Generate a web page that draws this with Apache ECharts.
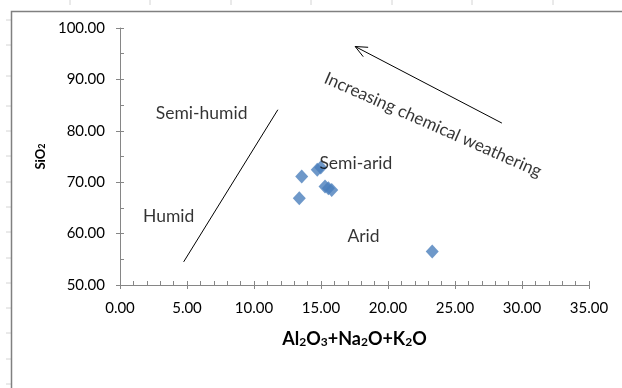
<!DOCTYPE html>
<html>
<head>
<meta charset="utf-8">
<script src="https://cdn.jsdelivr.net/npm/echarts@6/dist/echarts.min.js"></script>
<style>
  html, body { margin: 0; padding: 0; background: #fff; }
  #chart { width: 622px; height: 388px; }
</style>
</head>
<body>
<div id="chart"></div>
<script>
// sample points (Al2O3+Na2O+K2O, SiO2)
const samples = [
  [13.56, 71.1],
  [14.72, 72.4],
  [14.98, 72.85],
  [13.38, 66.9],
  [15.3, 69.15],
  [15.55, 68.8],
  [15.8, 68.5],
  [23.3, 56.5]
];

// humid / semi-humid boundary line
const boundary = [[4.75, 54.5], [11.78, 84.1]];

// weathering arrow: tail -> tip
const arrow = [[28.5, 81.5], [17.55, 96.4]];

// field labels
const fieldNames = ['Semi-humid', 'Humid', 'Semi-arid', 'Arid'];
const fieldPos = [[6.09, 83.3], [3.63, 63.4], [17.6, 73.75], [18.17, 59.4]];
const arrowText = 'Increasing chemical weathering';
const arrowTextPos = [23.35, 81.15];

const xMin = 0, xMax = 35, xStep = 5;
const yMin = 50, yMax = 100, yStep = 10;

const font = 'Lato, "Open Sans", sans-serif';
const axisGray = '#868686';

const chart = echarts.init(document.getElementById('chart'), null, { renderer: 'canvas' });

// spreadsheet cell marks around the chart frame
const decor = [];
[70, 150, 231, 311, 392, 472, 553].forEach(x => {
  decor.push({ type: 'line', silent: true, shape: { x1: x, y1: 0, x2: x, y2: 5 }, style: { stroke: '#d4d4d4', lineWidth: 1 } });
});
[20, 45, 76, 106, 131, 156, 182, 207, 232, 258, 283, 308, 333, 359, 384].forEach(y => {
  decor.push({ type: 'line', silent: true, shape: { x1: 6, y1: y, x2: 11, y2: y }, style: { stroke: '#d4d4d4', lineWidth: 1 } });
});
decor.push({ type: 'polyline', silent: true, shape: { points: [[11.5, 400], [11.5, 11.5], [640, 11.5]] }, style: { stroke: '#808080', lineWidth: 1.5, fill: null } });

const option = {
  animation: false,
  backgroundColor: '#fff',
  textStyle: { fontFamily: font },
  graphic: decor,
  grid: { left: 120, right: 33, top: 28, bottom: 103, containLabel: false },
  xAxis: [{
    type: 'value', min: xMin, max: xMax, interval: xStep, position: 'bottom',
    axisLine: { show: true, onZero: false, lineStyle: { color: axisGray, width: 1 } },
    axisTick: { show: true, inside: false, length: 4, lineStyle: { color: axisGray } },
    axisLabel: { color: '#000', fontSize: 15, margin: 16, formatter: v => v.toFixed(2) },
    splitLine: { show: false },
    name: '{b|Al}{s|2}{b|O}{s|3}{b|+Na}{s|2}{b|O+K}{s|2}{b|O}',
    nameLocation: 'middle', nameGap: 42,
    nameTextStyle: {
      rich: {
        b: { fontSize: 18, fontWeight: 'bold', color: '#000', fontFamily: font, lineHeight: 21, verticalAlign: 'bottom' },
        s: { fontSize: 12, fontWeight: 'bold', color: '#000', fontFamily: font, lineHeight: 16, verticalAlign: 'bottom' }
      }
    }
  }, {
    type: 'value', min: xMin, max: xMax, interval: xStep, position: 'bottom',
    axisLine: { show: false, onZero: false },
    axisTick: { show: true, inside: true, length: 4, lineStyle: { color: axisGray } },
    minorTick: { show: true, splitNumber: 5, length: 4, lineStyle: { color: axisGray } },
    axisLabel: { show: false },
    splitLine: { show: false }
  }],
  yAxis: [{
    type: 'value', min: yMin, max: yMax, interval: yStep, position: 'left',
    axisLine: { show: true, onZero: false, lineStyle: { color: axisGray, width: 1 } },
    axisTick: { show: true, inside: false, length: 4, lineStyle: { color: axisGray } },
    axisLabel: { color: '#000', fontSize: 15, margin: 15, formatter: v => v.toFixed(2) },
    splitLine: { show: false },
    name: '{b|SiO}{s|2}',
    nameLocation: 'middle', nameGap: 70, nameRotate: 90,
    nameTextStyle: {
      rich: {
        b: { fontSize: 13, fontWeight: 'bold', color: '#000', fontFamily: font, lineHeight: 16, verticalAlign: 'bottom' },
        s: { fontSize: 9, fontWeight: 'bold', color: '#000', fontFamily: font, lineHeight: 12, verticalAlign: 'bottom' }
      }
    }
  }, {
    type: 'value', min: yMin, max: yMax, interval: yStep, position: 'left',
    axisLine: { show: false, onZero: false },
    axisTick: { show: true, inside: true, length: 4, lineStyle: { color: axisGray } },
    minorTick: { show: true, splitNumber: 2, length: 4, lineStyle: { color: axisGray } },
    axisLabel: { show: false },
    splitLine: { show: false }
  }],
  series: [
    {
      type: 'line', name: 'boundary', data: boundary, showSymbol: false, symbol: 'none',
      lineStyle: { color: '#000', width: 1 }, silent: true, z: 2
    },
    {
      type: 'custom', name: 'arrow', silent: true, z: 2,
      data: [arrow[0].concat(arrow[1])],
      renderItem: function (params, api) {
        const a = api.coord([api.value(0), api.value(1)]);
        const b = api.coord([api.value(2), api.value(3)]);
        const ang = Math.atan2(a[1] - b[1], a[0] - b[0]);
        const len = 13, spread = 0.42;
        const h1 = [b[0] + len * Math.cos(ang + spread), b[1] + len * Math.sin(ang + spread)];
        const h2 = [b[0] + len * Math.cos(ang - spread), b[1] + len * Math.sin(ang - spread)];
        const st = { stroke: '#000', lineWidth: 1, fill: null };
        return {
          type: 'group',
          children: [
            { type: 'line', shape: { x1: a[0], y1: a[1], x2: b[0], y2: b[1] }, style: st },
            { type: 'polyline', shape: { points: [h1, b, h2] }, style: st }
          ]
        };
      }
    },
    {
      type: 'scatter', name: 'samples', data: samples,
      symbol: 'diamond', symbolSize: [13, 14],
      itemStyle: { color: '#4A7EBB' }, z: 3
    },
    {
      type: 'scatter', name: 'fields', silent: true, z: 4,
      data: fieldPos.map((p, i) => ({ value: p, name: fieldNames[i] })),
      symbolSize: 0,
      label: {
        show: true, position: 'inside', formatter: '{b}',
        color: '#000', fontSize: 17.5, fontFamily: font
      }
    },
    {
      type: 'scatter', name: 'arrowText', silent: true, z: 4,
      data: [{ value: arrowTextPos, name: arrowText }],
      symbolSize: 0,
      label: {
        show: true, position: 'inside', formatter: '{b}', rotate: -23.8,
        color: '#000', fontSize: 17.2, fontFamily: font
      }
    }
  ]
};

chart.setOption(option);
</script>
</body>
</html>
